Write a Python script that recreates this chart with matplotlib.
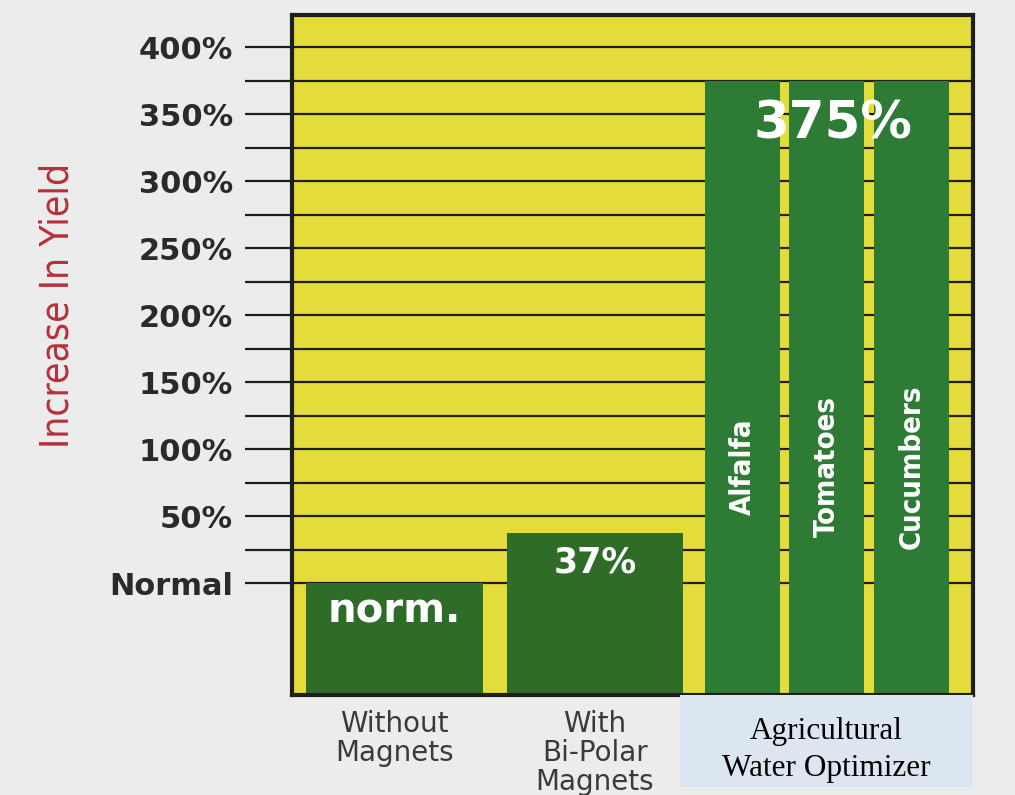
import matplotlib
matplotlib.use("Agg")
import matplotlib.pyplot as plt
from matplotlib.patches import Rectangle

# Datos del grafico
categorias = ['Without\nMagnets', 'With\nBi-Polar\nMagnets', 'Alfalfa', 'Tomatoes', 'Cucumbers']
valores = [0, 37, 375, 375, 375]
grupo_derecha = 'Agricultural\nWater Optimizer'
ticks_mayores = [0, 50, 100, 150, 200, 250, 300, 350, 400]
ticks_etiquetas = ['Normal', '50%', '100%', '150%', '200%', '250%', '300%', '350%', '400%']
ticks_menores = [25, 75, 125, 175, 225, 275, 325, 375]

# Disposicion (en unidades del eje x)
centros = [1.025, 3.03, 4.505, 5.345, 6.195]
anchos = [1.77, 1.76, 0.75, 0.75, 0.75]
y_min, y_max = -83.6, 424

amarillo = '#e4dc3a'
verde_osc = '#2f6c28'
verde = '#2e7b36'
linea = '#1f1f1a'
fondo = '#ececec'

fig = plt.figure(figsize=(10.15, 7.95), dpi=100, facecolor=fondo)
ax = fig.add_axes([292 / 1015, 100 / 795, 681 / 1015, 680 / 795])
ax.set_facecolor(amarillo)
ax.set_xlim(0, 6.81)
ax.set_ylim(y_min, y_max)

# Lineas horizontales cada 25%
for y in ticks_mayores + ticks_menores:
    ax.axhline(y, color=linea, lw=1.6, zorder=1)

colores = [verde_osc, verde_osc, verde, verde, verde]
ax.bar(centros, [v - y_min for v in valores], width=anchos, bottom=y_min,
       color=colores, zorder=2)

# Etiquetas dentro de las barras
ax.text(centros[0], valores[0] - 21, 'norm.', color='white', fontsize=29,
        fontweight='bold', ha='center', va='center', zorder=3)
ax.text(centros[1], valores[1] - 22, '37%', color='white', fontsize=25,
        fontweight='bold', ha='center', va='center', zorder=3)
ax.text(centros[3] + 0.065, valores[3] - 33, '375%', color='white', fontsize=37,
        fontweight='bold', ha='center', va='center', zorder=3)
for c, nombre in zip(centros[2:], categorias[2:]):
    ax.text(c, 87, nombre, color='white', fontsize=21, fontweight='bold',
            fontstretch='condensed', rotation=90, ha='center', va='center', zorder=3)

# Eje y
ax.set_yticks(ticks_mayores)
ax.set_yticklabels(ticks_etiquetas, fontsize=22, fontweight='bold', color='#2a2a2a')
ax.set_yticks(ticks_menores, minor=True)
ax.tick_params(axis='y', which='both', length=34, width=1.6, color=linea,
               direction='out', pad=8.6)
ax.set_ylabel('Increase In Yield', color='#b5313a', fontsize=28,
              fontstretch='condensed', va='center')
ax.yaxis.set_label_coords(-0.345, 0.5735)

# Eje x
ax.set_xticks(centros[:2])
ax.set_xticklabels(categorias[:2], fontsize=20, color='#3a3a3a', linespacing=1.05)
ax.tick_params(axis='x', length=0, pad=11)

for s in ax.spines.values():
    s.set_color(linea)
    s.set_linewidth(3)
    s.set_zorder(4)

# Caja del grupo de la derecha
fig.patches.append(Rectangle((680 / 1015, 8 / 795), 293 / 1015, 92 / 795,
                             transform=fig.transFigure, facecolor='#dce6f0',
                             edgecolor='none', zorder=0))
fig.text(826 / 1015, 1 - 750 / 795, grupo_derecha, family='Liberation Serif',
         fontsize=22.5, ha='center', va='center', linespacing=1.35, color='black')

fig.savefig('out.png', dpi=100, facecolor=fondo)
